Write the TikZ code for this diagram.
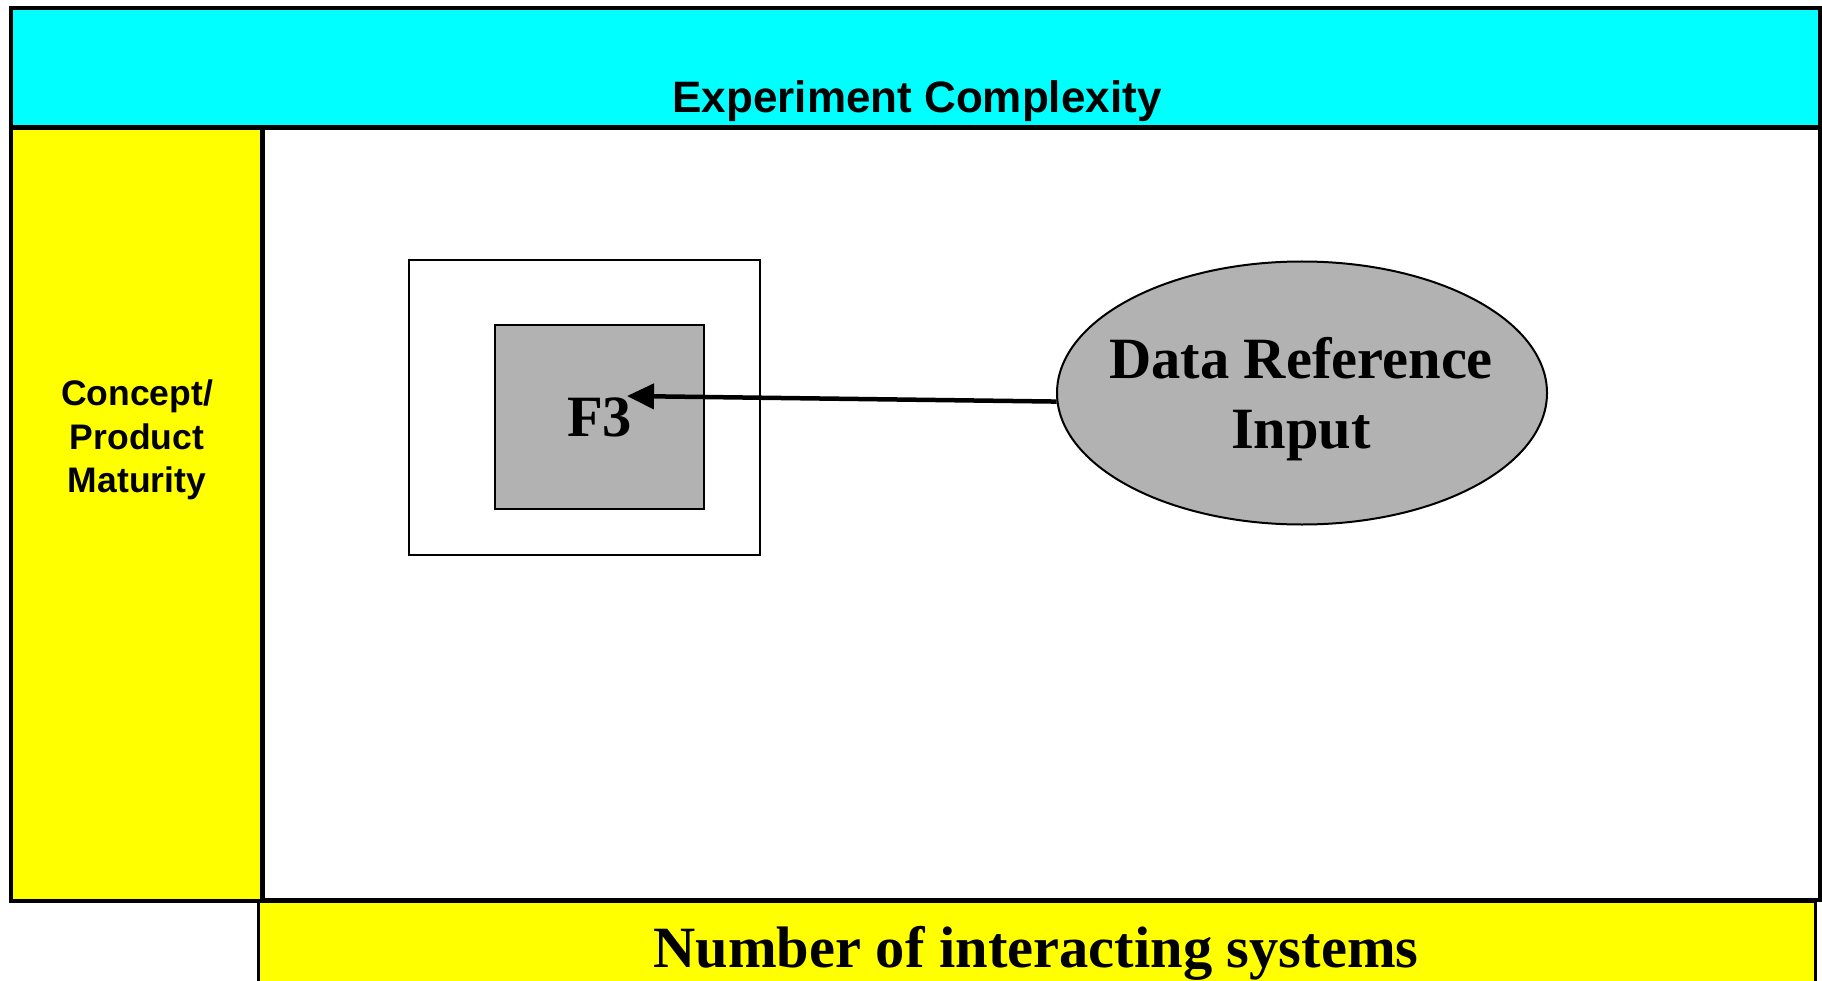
\documentclass[tikz,border=0pt]{standalone}
\usepackage{fontspec}
\setmainfont{Liberation Serif}
\newfontfamily\arialf{Liberation Sans}
\usetikzlibrary{shapes.geometric,arrows.meta}
\definecolor{cyanfill}{RGB}{0,255,255}
\definecolor{yelfill}{RGB}{255,255,0}
\definecolor{gfill}{RGB}{178,178,178}
\tikzset{
  panel/.style={draw=black,line width=#1},
  serifbig/.style={font=\fontsize{58.5}{70}\selectfont\bfseries,inner sep=0pt},
  sansbig/.style={font=\arialf\fontsize{44}{52}\selectfont\bfseries,inner sep=0pt},
  sanssmall/.style={font=\arialf\fontsize{35.5}{43.5}\selectfont\bfseries,inner sep=0pt,align=center},
  graybox/.style={draw=black,line width=2.2pt,fill=gfill,rectangle,inner sep=0pt},
  framebox/.style={draw=black,line width=2pt,rectangle,inner sep=0pt},
  linkarrow/.style={line width=4.5pt,-{Triangle[length=27pt,width=25pt]}}
}
\begin{document}
\begin{tikzpicture}[x=1pt,y=1pt]
\useasboundingbox (0,0) rectangle (1822,-981);
\clip (0,0) rectangle (1822,-981);
% panels
\fill[white] (0,0) rectangle (1822,-981);
\draw[panel=3.5pt,fill=white] (262,-128) rectangle (1820,-900);
\draw[panel=3pt,fill=yelfill] (258,-901) rectangle (1815,-1000);
\draw[panel=4pt,fill=cyanfill] (11,-8) rectangle (1820,-127);
\draw[panel=4.5pt,fill=yelfill] (11,-128) rectangle (262.5,-901);
% labels
\node[sansbig,anchor=base] (exp) at (917,-113) {Experiment Complexity};
\node[sanssmall] (mat) at (137,-440) {Concept/\\Product\\Maturity};
\node[serifbig,anchor=base] (num) at (1036,-967) {Number of interacting systems};
% boxes
\node[framebox,minimum width=351pt,minimum height=295pt] (outer) at (584.5,-407.5) {};
\node[graybox,minimum width=209pt,minimum height=184pt,serifbig] (f3) at (599.5,-417) {F3};
\node[ellipse,draw=black,line width=2pt,fill=gfill,minimum width=490pt,minimum height=263pt,inner sep=0pt] (dri) at (1302,-393) {};
\node[serifbig,align=center] (drt) at (1301,-399) {Data Reference\\Input};
\coordinate (tip) at (627,-396);
\draw[linkarrow] (dri.182) -- (tip);
\end{tikzpicture}
\end{document}
